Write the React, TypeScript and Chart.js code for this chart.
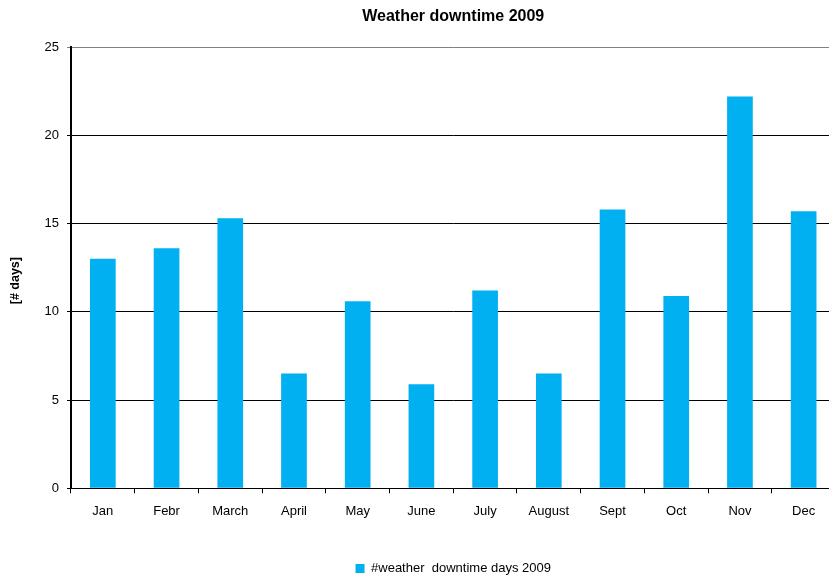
import { useEffect, useRef } from "react";
import { Chart, registerables } from "chart.js";

Chart.register(...registerables);

// Monthly weather downtime, 2009
const months = ["Jan", "Febr", "March", "April", "May", "June", "July", "August", "Sept", "Oct", "Nov", "Dec"];
const downtimeDays = [13.0, 13.6, 15.3, 6.5, 10.6, 5.9, 11.2, 6.5, 15.8, 10.9, 22.2, 15.7];
const yMin = 0;
const yMax = 25;
const yStep = 5;

const chartTitle = "Weather downtime 2009";
const yAxisTitle = "[# days]";
const seriesLabel = "#weather  downtime days 2009";

const FONT = 'Arial, "Liberation Sans", sans-serif';
const BAR_COLOR = "#00B0F0";

const CANVAS_W = 850;
const CANVAS_H = 585;

// Rotated y-axis caption, drawn beside the value labels
const sideTitle = {
  id: "sideTitle",
  afterDraw(chart: any) {
    const { ctx, chartArea } = chart;
    ctx.save();
    ctx.translate(16, (chartArea.top + chartArea.bottom) / 2 + 13);
    ctx.rotate(-Math.PI / 2);
    ctx.font = `bold 12.5px ${FONT}`;
    ctx.fillStyle = "#000";
    ctx.textAlign = "center";
    ctx.textBaseline = "middle";
    ctx.fillText(yAxisTitle, 0, 0);
    ctx.restore();
  },
};

export default function App() {
  const canvasRef = useRef<HTMLCanvasElement | null>(null);

  useEffect(() => {
    if (!canvasRef.current) return;
    const chart = new Chart(canvasRef.current, {
      type: "bar",
      data: {
        labels: months,
        datasets: [
          {
            label: seriesLabel,
            data: downtimeDays,
            backgroundColor: BAR_COLOR,
            borderWidth: 0,
            categoryPercentage: 1,
            barPercentage: 0.403,
          },
        ],
      },
      options: {
        responsive: false,
        animation: false,
        layout: { padding: { left: 0, right: 14.5, top: 0, bottom: 0 } },
        plugins: {
          title: {
            display: true,
            text: chartTitle,
            fullSize: false,
            color: "#000",
            font: { family: FONT, size: 16, weight: "bold" },
            padding: { top: 7, bottom: 20.8 },
          },
          legend: {
            position: "bottom",
            fullSize: false,
            labels: {
              color: "#000",
              font: { family: FONT, size: 13 },
              boxWidth: 9,
              boxHeight: 9,
              padding: 10,
            },
          },
          tooltip: { enabled: false },
        },
        scales: {
          x: {
            grid: {
              offset: true,
              drawOnChartArea: false,
              drawTicks: true,
              tickLength: 5,
              color: "#000",
            },
            border: { color: "#000", width: 1 },
            ticks: {
              color: "#000",
              font: { family: FONT, size: 13 },
              padding: 10.5,
              maxRotation: 0,
            },
            afterFit(scale: any) {
              scale.height = 63.7;
            },
          },
          y: {
            min: yMin,
            max: yMax,
            grid: {
              color: (ctx: any) => (ctx.tick && ctx.tick.value === yMax ? "#808080" : "#000"),
              lineWidth: 1,
              drawTicks: true,
              tickLength: 4,
            },
            border: { color: "#000", width: 2 },
            ticks: {
              stepSize: yStep,
              color: "#000",
              font: { family: FONT, size: 13 },
              padding: 8,
            },
            afterFit(scale: any) {
              scale.width = 71;
            },
          },
        },
      },
      plugins: [sideTitle],
    });
    return () => chart.destroy();
  }, []);

  return (
    <div
      style={{
        position: "absolute",
        left: 0,
        top: 0,
        width: 829,
        height: 577,
        overflow: "hidden",
        background: "#fff",
      }}
    >
      <canvas
        ref={canvasRef}
        width={CANVAS_W}
        height={CANVAS_H}
        style={{ display: "block", width: CANVAS_W, height: CANVAS_H }}
      />
    </div>
  );
}
